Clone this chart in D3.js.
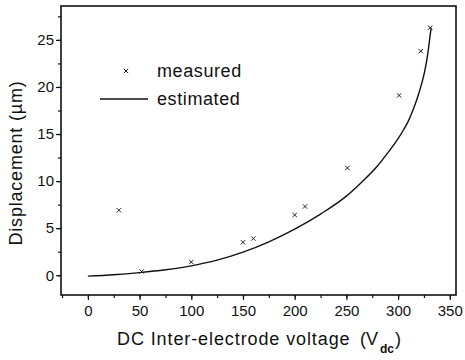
<!DOCTYPE html>
<html>
<head>
<meta charset="utf-8">
<script src="https://cdn.jsdelivr.net/npm/d3@7"></script>
<style>
  body { margin: 0; background: #fff; }
  text { font-family: "Liberation Sans", Arial, sans-serif; fill: #111; }
</style>
</head>
<body>
<div id="wrapper"></div>
<script>
// Measured points (V, µm)
const measuredVolts = [30, 52, 100, 150, 160, 200, 210, 251, 301, 322, 331]
const measuredDisp = [6.9, 0.4, 1.4, 3.5, 3.9, 6.4, 7.3, 11.4, 19.1, 23.8, 26.3]

// Estimated curve (V, µm)
const estimatedVolts = [0, 25, 50, 75, 100, 125, 150, 175, 200, 225, 250, 265, 280, 290, 300, 305, 310, 315, 320, 325, 328, 330, 331, 332]
const estimatedDisp = [-0.1, 0.05, 0.28, 0.58, 1.0, 1.6, 2.45, 3.55, 4.9, 6.5, 8.4, 9.9, 11.6, 13.0, 14.5, 15.4, 16.4, 17.7, 19.3, 21.3, 23.0, 24.6, 25.5, 26.3]

const xTicks = [0, 50, 100, 150, 200, 250, 300, 350]
const yTicks = [0, 5, 10, 15, 20, 25]

const legendLabels = ["measured", "estimated"]

function drawChart() {
    let dimensions = {
        width: 465,
        height: 360,
        margin: { top: 6, right: 9, bottom: 65, left: 61 },
    }
    dimensions.boundedWidth = dimensions.width - dimensions.margin.left - dimensions.margin.right
    dimensions.boundedHeight = dimensions.height - dimensions.margin.top - dimensions.margin.bottom

    const wrapper = d3.select("#wrapper")
        .append("svg")
        .attr("width", dimensions.width)
        .attr("height", dimensions.height)

    const bounds = wrapper.append("g")
        .attr("transform", `translate(${dimensions.margin.left},${dimensions.margin.top})`)

    const xScale = d3.scaleLinear()
        .domain([-26, 356])
        .range([0, dimensions.boundedWidth])

    const yScale = d3.scaleLinear()
        .domain([-2.1, 28.6])
        .range([dimensions.boundedHeight, 0])

    // minor ticks
    const xMinor = d3.range(-25, 351, 25)
    const yMinor = d3.range(0, 28.6, 2.5)

    bounds.append("g")
        .attr("transform", `translate(0,${dimensions.boundedHeight})`)
        .call(d3.axisBottom(xScale).tickValues(xMinor).tickSize(3).tickFormat(""))
    bounds.append("g")
        .call(d3.axisLeft(yScale).tickValues(yMinor).tickSize(3).tickFormat(""))

    // major axes
    bounds.append("g")
        .attr("transform", `translate(0,${dimensions.boundedHeight})`)
        .call(d3.axisBottom(xScale).tickValues(xTicks).tickSize(5).tickPadding(5))
    bounds.append("g")
        .call(d3.axisLeft(yScale).tickValues(yTicks).tickSize(5).tickPadding(2))

    bounds.selectAll(".domain").remove()
    bounds.selectAll(".tick line").attr("stroke", "#111").attr("stroke-width", 1.2)
    bounds.selectAll(".tick text").style("font-size", "15px")
        .style("font-family", "'Liberation Sans', Arial, sans-serif").attr("fill", "#111")

    // frame
    bounds.append("rect")
        .attr("x", 0).attr("y", 0)
        .attr("width", dimensions.boundedWidth)
        .attr("height", dimensions.boundedHeight)
        .attr("fill", "none")
        .attr("stroke", "#111")
        .attr("stroke-width", 1.6)

    // estimated curve
    const lineGenerator = d3.line()
        .x((d, i) => xScale(estimatedVolts[i]))
        .y(d => yScale(d))
        .curve(d3.curveMonotoneX)

    bounds.append("path")
        .attr("d", lineGenerator(estimatedDisp))
        .attr("fill", "none")
        .attr("stroke", "#111")
        .attr("stroke-width", 1.4)

    // measured crosses
    const cross = d3.symbol().type(d3.symbolTimes).size(14)
    bounds.selectAll(".meas")
        .data(measuredDisp)
        .join("path")
        .attr("class", "meas")
        .attr("transform", (d, i) => `translate(${xScale(measuredVolts[i])},${yScale(d)})`)
        .attr("d", cross)
        .attr("fill", "none")
        .attr("stroke", "#222")
        .attr("stroke-width", 1)

    // legend
    const legend = wrapper.append("g")
    legend.append("path")
        .attr("transform", "translate(126,71)")
        .attr("d", cross)
        .attr("fill", "none")
        .attr("stroke", "#222")
        .attr("stroke-width", 1)
    legend.append("line")
        .attr("x1", 100).attr("x2", 148)
        .attr("y1", 99).attr("y2", 99)
        .attr("stroke", "#111")
        .attr("stroke-width", 1.4)
    legend.selectAll(".lbl")
        .data(legendLabels)
        .join("text")
        .attr("class", "lbl")
        .attr("x", 157)
        .attr("y", (d, i) => 77 + i * 28)
        .style("font-size", "18px")
        .style("letter-spacing", "0.6px")
        .text(d => d)

    // axis titles
    const xTitle = wrapper.append("text")
        .attr("y", 345)
        .style("font-size", "18px")
    xTitle.append("tspan").attr("x", 117).style("letter-spacing", "0.9px").text("DC Inter-electrode voltage")
    xTitle.append("tspan").attr("x", 360).text("(V")
    xTitle.append("tspan").attr("x", 380).attr("dy", 8).style("font-size", "12px").style("font-weight", "bold").text("dc")
    xTitle.append("tspan").attr("x", 395).attr("dy", -8).text(")")

    wrapper.append("text")
        .attr("transform", "translate(22,163) rotate(-90)")
        .attr("text-anchor", "middle")
        .style("font-size", "18px")
        .style("letter-spacing", "0.8px")
        .text("Displacement  (µm)")
}

drawChart()
</script>
</body>
</html>
